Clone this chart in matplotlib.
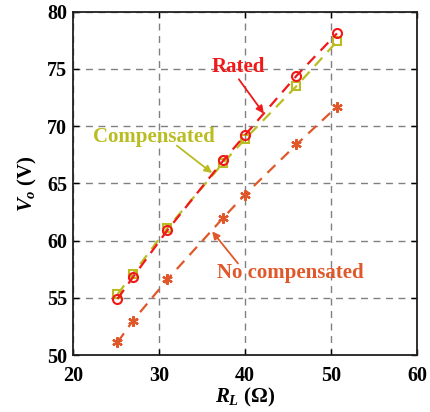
import matplotlib
matplotlib.use("Agg")
import matplotlib.pyplot as plt

rl = [25.2, 27.0, 31.0, 37.5, 40.0, 46.0, 50.7]
rated = [54.9, 56.8, 60.9, 67.0, 69.2, 74.4, 78.1]
compensated = [55.3, 57.1, 61.1, 66.8, 68.85, 73.5, 77.4]
no_comp = [51.1, 53.0, 56.6, 62.0, 64.0, 68.4, 71.7]

xticks = [20, 30, 40, 50, 60]
yticks = [50, 55, 60, 65, 70, 75, 80]

c_rated = "#F01818"
c_comp = "#BABD22"
c_no = "#E0582A"

plt.rcParams['font.family'] = ['Liberation Serif', 'DejaVu Serif']
plt.rcParams['mathtext.fontset'] = 'custom'
plt.rcParams['mathtext.rm'] = 'Liberation Serif:bold'
plt.rcParams['mathtext.it'] = 'Liberation Serif:bold:italic'
plt.rcParams['mathtext.bf'] = 'Liberation Serif:bold'

fig = plt.figure(figsize=(4.31, 4.12), dpi=100)
ax = fig.add_axes([72.7/431, 1 - 355/412, (417 - 72.7)/431, (355 - 11.7)/412])

dash = (0, (5, 3.5))
ax.plot(rl, rated, linestyle=dash, color=c_rated, lw=1.6,
        marker='o', mfc='none', mec=c_rated, ms=6.5, mew=1.5, zorder=4)
ax.plot(rl, compensated, linestyle=dash, color=c_comp, lw=1.6,
        marker='s', mfc='none', mec=c_comp, ms=5.5, mew=1.5, zorder=3)
ax.plot(rl, no_comp, linestyle=dash, color=c_no, lw=1.6,
        marker=(6, 2, 0), mec=c_no, ms=7.5, mew=1.6, zorder=3)

ax.set_xlim(20, 60)
ax.set_ylim(50, 80)
ax.set_xticks(xticks)
ax.set_yticks(yticks)
ax.grid(True, linestyle=(0, (5, 4)), color='#808080', lw=1.0)
ax.tick_params(direction='in', length=4, width=1, top=True, right=True,
               labelsize=14.5)
ax.tick_params(axis='x', pad=8)
ax.tick_params(axis='y', pad=4)
for lab in ax.get_xticklabels() + ax.get_yticklabels():
    lab.set_fontweight('bold')
for s in ax.spines.values():
    s.set_linewidth(1.3)
    s.set_color('#202020')

ax.set_xlabel(r'$R_{L}$ (Ω)', fontsize=15, fontweight='bold', va='center')
ax.xaxis.set_label_coords(0.5, (355 - 397) / 343.3)
ax.set_ylabel(r'$V_{o}$ (V)', fontsize=15, fontweight='bold', va='center')
ax.yaxis.set_label_coords((27 - 72.7) / 344.3, 0.5)

fs = 15
ax.text(39.2, 75.2, 'Rated', color=c_rated, fontsize=fs, fontweight='bold',
        ha='center', va='center')
ax.annotate('', xy=(42.2, 71.1), xytext=(39.3, 74.1),
            arrowprops=dict(arrowstyle='-|>', color=c_rated, lw=1.3,
                            shrinkA=0, shrinkB=0, mutation_scale=11))
ax.text(29.4, 69.05, 'Compensated', color=c_comp, fontsize=fs, fontweight='bold',
        ha='center', va='center')
ax.annotate('', xy=(36.2, 65.9), xytext=(32.1, 68.3),
            arrowprops=dict(arrowstyle='-|>', color=c_comp, lw=1.3,
                            shrinkA=0, shrinkB=0, mutation_scale=11))
ax.text(45.3, 57.2, 'No compensated', color=c_no, fontsize=fs, fontweight='bold',
        ha='center', va='center')
ax.annotate('', xy=(36.2, 60.8), xytext=(39.2, 58.0),
            arrowprops=dict(arrowstyle='-|>', color=c_no, lw=1.3,
                            shrinkA=0, shrinkB=0, mutation_scale=11))

fig.savefig('out.png', dpi=100)
